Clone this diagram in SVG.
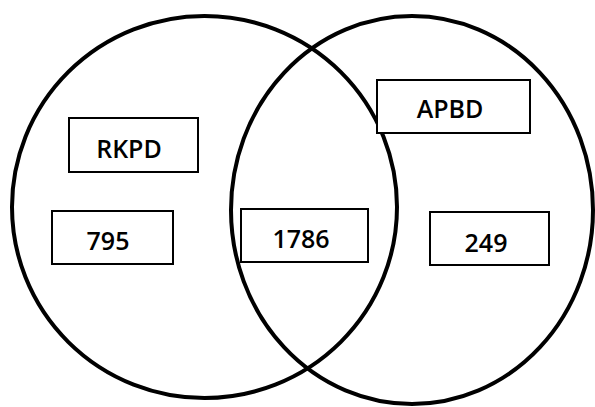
<svg xmlns="http://www.w3.org/2000/svg" width="595" height="407" viewBox="0 0 595 407">
<style>
.set{fill:none;stroke:#000;stroke-width:4}
.box{fill:#fff;stroke:#000;stroke-width:2}
.lbl{font-family:"Open Sans","Liberation Sans",sans-serif;font-weight:600;font-size:25px;fill:#000;text-anchor:middle}
</style>
<rect width="595" height="407" fill="#fff"/>
<g id="connectors"></g>
<g id="set-rkpd"><ellipse class="set" cx="204.5" cy="207" rx="192.5" ry="191"/></g>
<g id="set-apbd"><ellipse class="set" cx="412" cy="210" rx="181" ry="194"/></g>
<g id="label-rkpd"><rect class="box" x="69" y="118" width="129" height="54"/><text class="lbl" x="129" y="158">RKPD</text></g>
<g id="label-apbd"><rect class="box" x="377" y="80" width="153" height="53"/><text class="lbl" x="450" y="118">APBD</text></g>
<g id="only-rkpd"><rect class="box" x="52" y="211" width="121" height="53"/><text class="lbl" x="108" y="250">795</text></g>
<g id="both"><rect class="box" x="241" y="209" width="127" height="53"/><text class="lbl" x="301" y="248">1786</text></g>
<g id="only-apbd"><rect class="box" x="430" y="212" width="119" height="53"/><text class="lbl" x="486" y="252">249</text></g>
</svg>
